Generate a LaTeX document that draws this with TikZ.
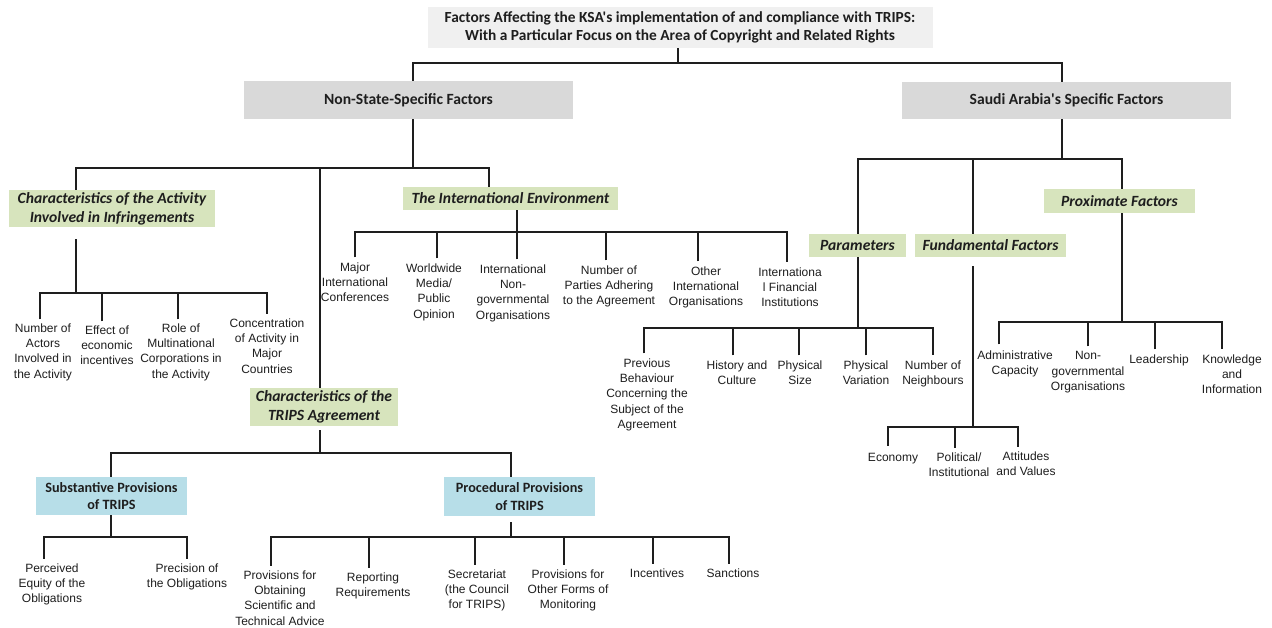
\documentclass[tikz,border=0pt]{standalone}
\usepackage{fontspec}
\setmainfont{Liberation Sans}
\newfontfamily\calfont{Carlito}
\definecolor{boxgray}{HTML}{D9D9D9}
\definecolor{titlegray}{HTML}{F0F0F0}
\definecolor{boxgreen}{HTML}{D7E4BD}
\definecolor{boxblue}{HTML}{B7DEE8}
\definecolor{ink}{HTML}{1E1E1E}
\begin{document}
\begin{tikzpicture}[x=1pt,y=-1pt,
  conn/.style={line width=2.3pt, draw=ink},
  hbox/.style={inner sep=0pt, align=center, text=ink},
  ttl/.style={hbox, fill=titlegray, font=\calfont\bfseries\fontsize{15.4}{17.5}\selectfont},
  gbox/.style={hbox, fill=boxgray, font=\calfont\bfseries\fontsize{15.6}{18}\selectfont},
  grn/.style={hbox, fill=boxgreen, font=\calfont\bfseries\itshape\fontsize{15.6}{19}\selectfont},
  blu/.style={hbox, fill=boxblue, font=\calfont\bfseries\fontsize{14.2}{17.5}\selectfont},
  lbl/.style={inner sep=0pt, align=center, anchor=north, text=ink, font=\fontsize{12}{15.3}\selectfont}]
\fill[white] (0,0) rectangle (1272,628);
\useasboundingbox (0,0) rectangle (1272,628);

% boxes
\node[ttl, minimum width=505pt, minimum height=41pt] (title) at (680,27.5)
  {Factors Affecting the KSA's implementation of and compliance with TRIPS:\\With a Particular Focus on the Area of Copyright and Related Rights};
\node[gbox, minimum width=329pt, minimum height=38pt] (nonstate) at (408.5,100) {Non-State-Specific Factors};
\node[gbox, minimum width=329pt, minimum height=37pt] (saudi) at (1066.5,100.5) {Saudi Arabia's Specific Factors};
\node[grn, minimum width=206pt, minimum height=37pt] (activity) at (112,208.5) {Characteristics of the Activity\\Involved in Infringements};
\node[grn, minimum width=215pt, minimum height=23pt] (intenv) at (510.5,198.5) {The International Environment};
\node[grn, minimum width=148pt, minimum height=38pt] (trips) at (324,407) {Characteristics of the\\TRIPS Agreement};
\node[grn, minimum width=97pt, minimum height=23pt] (params) at (857.5,245.5) {Parameters};
\node[grn, minimum width=151pt, minimum height=23pt] (fund) at (990.5,245.5) {Fundamental Factors};
\node[grn, minimum width=151pt, minimum height=24pt] (prox) at (1119.5,201) {Proximate Factors};
\node[blu, minimum width=151pt, minimum height=38pt] (subst) at (111.5,496) {Substantive Provisions\\of TRIPS};
\node[blu, minimum width=151pt, minimum height=39pt] (proc) at (519.5,496.5) {Procedural Provisions\\of TRIPS};

% activity children
\node[lbl] (a1) at (43,323.5) {Number of\\Actors\\Involved in\\the Activity};
\node[lbl] (a2) at (107,325.5) {Effect of\\economic\\incentives};
\node[lbl] (a3) at (181,323.5) {Role of\\Multinational\\Corporations in\\the Activity};
\node[lbl] (a4) at (267,318.5) {Concentration\\of Activity in\\Major\\Countries};

% international environment children
\node[lbl] (e1) at (355,262.5) {Major\\International\\Conferences};
\node[lbl] (e2) at (434,263.5) {Worldwide\\Media/\\Public\\Opinion};
\node[lbl] (e3) at (513,264.5) {International\\Non-\\governmental\\Organisations};
\node[lbl] (e4) at (609,265.5) {Number of\\Parties Adhering\\to the Agreement};
\node[lbl] (e5) at (706,266.5) {Other\\International\\Organisations};
\node[lbl] (e6) at (790,267.5) {Internationa\\l Financial\\Institutions};

% parameters children
\node[lbl] (p1) at (647,358.5) {Previous\\Behaviour\\Concerning the\\Subject of the\\Agreement};
\node[lbl] (p2) at (737,360.5) {History and\\Culture};
\node[lbl] (p3) at (800,360.5) {Physical\\Size};
\node[lbl] (p4) at (866,360.5) {Physical\\Variation};
\node[lbl] (p5) at (933,360.5) {Number of\\Neighbours};

% fundamental children
\node[lbl] (f1) at (893,453.5) {Economy};
\node[lbl] (f2) at (959,452.5) {Political/\\Institutional};
\node[lbl] (f3) at (1026,451.5) {Attitudes\\and Values};

% proximate children
\node[lbl] (q1) at (1015,350.5) {Administrative\\Capacity};
\node[lbl] (q2) at (1088,351.5) {Non-\\governmental\\Organisations};
\node[lbl] (q3) at (1159,354.5) {Leadership};
\node[lbl] (q4) at (1232,354.5) {Knowledge\\and\\Information};

% substantive children
\node[lbl] (s1) at (52,563.5) {Perceived\\Equity of the\\Obligations};
\node[lbl] (s2) at (187,563.5) {Precision of\\the Obligations};

% procedural children
\node[lbl] (r1) at (280,570.5) {Provisions for\\Obtaining\\Scientific and\\Technical Advice};
\node[lbl] (r2) at (373,572.5) {Reporting\\Requirements};
\node[lbl] (r3) at (477,569.5) {Secretariat\\(the Council\\for TRIPS)};
\node[lbl] (r4) at (568,569.5) {Provisions for\\Other Forms of\\Monitoring};
\node[lbl] (r5) at (657,568.5) {Incentives};
\node[lbl] (r6) at (733,568.5) {Sanctions};

% junctions
\coordinate (b0) at (678,63);
\coordinate (b1) at (413,168);
\coordinate (ba) at (76,293);
\coordinate (be) at (517,232);
\coordinate (bs) at (1062,159);
\coordinate (bp) at (858,328);
\coordinate (bf) at (973,427);
\coordinate (bq) at (1122,322);
\coordinate (bt) at (320,453);
\coordinate (bsub) at (111,537);
\coordinate (bpr) at (511,537);

% connectors
\draw[conn] ([xshift=-2pt]title.south) -- (b0);
\draw[conn] ([xshift=4.5pt]nonstate.north) |- (b0) -| ([xshift=-4.5pt]saudi.north);

\draw[conn] ([xshift=4.5pt]nonstate.south) -- (b1);
\draw[conn] ([xshift=-36pt]activity.north) |- (b1) -| ([xshift=-21.5pt]intenv.north);
\draw[conn] ([xshift=-4pt]trips.north) |- (b1);

\draw[conn] ([xshift=-36pt,yshift=-12pt]activity.south) -- (ba);
\draw[conn] ([xshift=-3pt,yshift=4pt]a1.north) |- (ba) -| ([yshift=4pt]a4.north);
\draw[conn] ([xshift=-5pt,yshift=4pt]a2.north) |- (ba);
\draw[conn] ([xshift=-3pt,yshift=4pt]a3.north) |- (ba);

\draw[conn] ([xshift=6.5pt]intenv.south) -- (be);
\draw[conn] ([yshift=5pt]e1.north) |- (be) -| ([xshift=-3pt,yshift=5pt]e6.north);
\draw[conn] ([xshift=3pt,yshift=5pt]e2.north) |- (be);
\draw[conn] ([xshift=4pt,yshift=5pt]e3.north) |- (be);
\draw[conn] ([xshift=-3pt,yshift=5pt]e4.north) |- (be);
\draw[conn] ([xshift=-8pt,yshift=5pt]e5.north) |- (be);

\draw[conn] ([xshift=-4.5pt]saudi.south) -- (bs);
\draw[conn] ([xshift=0.5pt]params.north) |- (bs) -| ([xshift=2.5pt]prox.north);
\draw[conn] ([xshift=-17.5pt]fund.north) |- (bs);

\draw[conn] ([xshift=0.5pt]params.south) -- (bp);
\draw[conn] ([xshift=-3pt,yshift=5pt]p1.north) |- (bp) -| ([yshift=5pt]p5.north);
\draw[conn] ([xshift=-4pt,yshift=5pt]p2.north) |- (bp);
\draw[conn] ([xshift=-1pt,yshift=5pt]p3.north) |- (bp);
\draw[conn] ([yshift=5pt]p4.north) |- (bp);

\draw[conn] ([xshift=-17.5pt,yshift=-9pt]fund.south) -- (bf);
\draw[conn] ([xshift=-5pt,yshift=8pt]f1.north) |- (bf) -| ([xshift=-8pt,yshift=5pt]f3.north);
\draw[conn] ([xshift=-4pt,yshift=5pt]f2.north) |- (bf);

\draw[conn] ([xshift=2.5pt]prox.south) -- (bq);
\draw[conn] ([xshift=-16pt,yshift=6pt]q1.north) |- (bq) -| ([xshift=-10pt,yshift=5pt]q4.north);
\draw[conn] ([yshift=5pt]q2.north) |- (bq);
\draw[conn] ([xshift=-4pt,yshift=5pt]q3.north) |- (bq);

\draw[conn] ([xshift=-4pt,yshift=-4pt]trips.south) -- (bt);
\draw[conn] ([xshift=-0.5pt]subst.north) |- (bt) -| ([xshift=-8.5pt]proc.north);

\draw[conn] ([xshift=-0.5pt]subst.south) -- (bsub);
\draw[conn] ([xshift=-8pt,yshift=5pt]s1.north) |- (bsub) -| ([yshift=5pt]s2.north);

\draw[conn] ([xshift=-8.5pt,yshift=-6pt]proc.south) -- (bpr);
\draw[conn] ([xshift=-9pt,yshift=5pt]r1.north) |- (bpr) -| ([xshift=-4pt,yshift=5pt]r6.north);
\draw[conn] ([xshift=-4pt,yshift=5pt]r2.north) |- (bpr);
\draw[conn] ([xshift=-2pt,yshift=5pt]r3.north) |- (bpr);
\draw[conn] ([xshift=-4pt,yshift=5pt]r4.north) |- (bpr);
\draw[conn] ([xshift=-4pt,yshift=5pt]r5.north) |- (bpr);
\end{tikzpicture}
\end{document}
